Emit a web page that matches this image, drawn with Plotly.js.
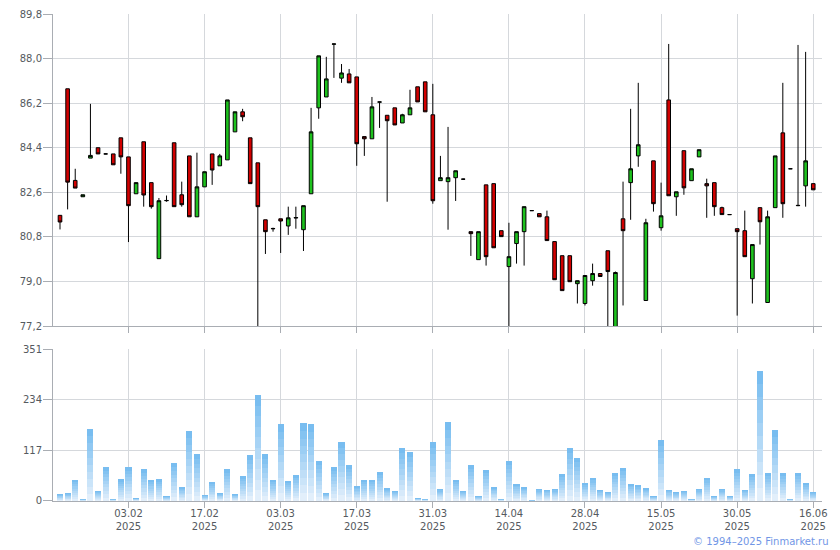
<!DOCTYPE html>
<html>
<head>
<meta charset="utf-8">
<script src="https://cdn.plot.ly/plotly-3.0.1.min.js"></script>
<style>html,body{margin:0;padding:0;background:#fff;}#chart{width:840px;height:550px;}</style>
</head>
<body>
<div id="chart"></div>
<script>
var dates = ["2025-01-21","2025-01-22","2025-01-23","2025-01-24","2025-01-27","2025-01-28","2025-01-29","2025-01-30","2025-01-31",
"2025-02-03","2025-02-04","2025-02-05","2025-02-06","2025-02-07","2025-02-10","2025-02-11","2025-02-12","2025-02-13","2025-02-14",
"2025-02-17","2025-02-18","2025-02-19","2025-02-20","2025-02-21","2025-02-24","2025-02-25","2025-02-26","2025-02-27","2025-02-28",
"2025-03-03","2025-03-04","2025-03-05","2025-03-06","2025-03-07","2025-03-10","2025-03-11","2025-03-12","2025-03-13","2025-03-14",
"2025-03-17","2025-03-18","2025-03-19","2025-03-20","2025-03-21","2025-03-24","2025-03-25","2025-03-26","2025-03-27","2025-03-28",
"2025-03-31","2025-04-01","2025-04-02","2025-04-03","2025-04-04","2025-04-07","2025-04-08","2025-04-09","2025-04-10","2025-04-11",
"2025-04-14","2025-04-15","2025-04-16","2025-04-17","2025-04-18","2025-04-21","2025-04-22","2025-04-23","2025-04-24","2025-04-25",
"2025-04-28","2025-04-29","2025-04-30","2025-05-05","2025-05-06","2025-05-07","2025-05-08","2025-05-12","2025-05-13","2025-05-14",
"2025-05-15","2025-05-16","2025-05-19","2025-05-20","2025-05-21","2025-05-22","2025-05-23","2025-05-26","2025-05-27","2025-05-28",
"2025-05-30","2025-06-02","2025-06-03","2025-06-04","2025-06-05","2025-06-06","2025-06-09","2025-06-10","2025-06-11","2025-06-13",
"2025-06-16"];

var openP = [81.67,86.78,83.08,82.42,83.98,84.40,84.15,84.15,84.80,84.03,
82.54,84.64,82.99,79.92,82.26,84.60,82.50,84.07,81.61,82.82,
84.15,83.67,83.91,85.04,85.85,84.80,83.79,81.49,81.14,81.53,
81.24,81.56,81.09,82.54,86.01,86.45,88.58,87.21,87.38,87.26,
84.85,84.76,86.24,85.71,86.01,85.40,85.73,86.86,87.06,85.73,
83.07,83.03,83.19,83.13,81.01,79.88,82.90,82.95,81.05,79.60,
80.53,81.01,81.86,81.74,81.61,80.61,80.04,80.04,78.91,78.11,
79.03,79.32,80.24,77.00,81.53,82.99,84.07,78.23,83.87,81.17,
86.33,82.42,84.28,83.07,84.03,82.95,82.99,81.98,81.70,81.13,
81.05,79.11,81.98,78.15,81.98,85.00,83.55,82.06,82.86,82.95];

var highP = [81.67,86.78,83.55,82.50,86.17,84.40,84.16,84.15,84.80,84.03,
82.99,84.64,82.99,82.37,82.47,84.60,83.03,84.07,84.20,83.43,
84.15,84.15,86.33,85.85,85.97,84.80,83.79,81.49,81.17,81.53,
82.02,82.02,82.06,86.01,88.11,88.07,88.60,87.78,87.58,87.26,
84.85,86.45,86.26,85.71,86.01,85.77,86.74,86.86,87.06,86.98,
84.07,85.24,83.47,83.15,81.01,81.01,82.90,82.95,81.05,81.37,
81.01,82.02,81.86,81.74,81.86,80.61,80.04,80.04,79.03,79.24,
79.72,79.32,80.24,79.40,83.03,85.97,87.02,81.53,83.87,82.99,
88.59,82.62,84.28,83.55,84.32,83.15,82.99,82.02,81.70,81.13,
81.86,80.49,81.98,81.86,84.07,87.02,83.55,88.55,88.27,82.95];

var lowP = [81.10,81.91,82.77,82.42,83.98,84.15,84.14,83.71,83.35,80.59,
82.54,82.02,81.94,79.92,82.22,82.02,82.02,81.61,81.61,82.82,
82.90,83.67,83.91,85.04,85.47,82.95,76.90,80.11,81.01,80.15,
80.88,81.13,80.23,82.54,85.57,86.45,87.22,87.02,87.02,83.67,
84.07,84.76,85.20,82.22,85.32,85.40,85.73,86.25,85.85,82.14,
83.07,81.09,82.25,83.10,80.03,79.88,79.64,80.36,80.81,76.90,
79.72,79.64,81.86,81.61,80.65,79.07,78.63,78.99,78.11,78.03,
78.83,79.20,76.90,76.90,78.03,81.49,83.63,78.23,81.82,81.05,
82.46,81.65,82.50,83.07,84.03,81.57,81.65,81.70,81.70,77.62,
80.00,78.11,80.49,78.15,81.98,81.57,83.55,82.04,82.02,82.70];

var closeP = [81.40,83.01,82.77,82.50,84.09,84.15,84.15,83.71,84.03,82.06,
82.99,82.49,82.02,82.26,82.27,82.02,82.10,81.61,82.82,83.43,
83.50,84.07,86.33,85.85,85.65,82.95,82.02,81.01,81.13,81.44,
81.57,81.58,82.06,85.04,88.11,87.18,88.59,87.42,87.02,84.56,
84.76,86.05,86.25,85.49,85.32,85.73,86.01,86.25,85.85,82.26,
83.19,83.19,83.47,83.13,80.93,81.01,80.00,80.36,80.81,80.00,
81.01,82.02,81.86,81.61,80.65,79.07,78.63,78.99,79.03,79.24,
79.32,79.20,79.40,79.36,81.05,83.55,84.52,81.37,82.14,81.65,
82.46,82.62,82.78,83.55,84.32,82.86,82.02,81.70,81.70,81.01,
80.00,80.49,81.41,81.61,84.07,82.14,83.55,82.07,83.87,82.70];

var volume = [15.5,17.8,48,4,166,22,78,4,50,78,
6,73,48,50,11,87,32,162,108,13,
43,18,73,15.5,57,106,245,108,48,178,
46,60,180,178,92,18,78,136,83,34,
48,48,66,29,22,122,113,6,4,136,
27,182,48,22,83,11,71,32,4,92,
39,32,1.5,27,25,27,62,122,99,41,
53,25,20,64,76,39,36,29,11,141,
25,20,22,4,27,53,11,27,11,73,
25,62,301,64,164,64,4,64,41,20];

var tickDates = ["2025-02-03","2025-02-17","2025-03-03","2025-03-17","2025-03-31","2025-04-14","2025-04-28","2025-05-15","2025-05-30","2025-06-16"];
var tickLabels = ["03.02<br>2025","17.02<br>2025","03.03<br>2025","17.03<br>2025","31.03<br>2025","14.04<br>2025","28.04<br>2025","15.05<br>2025","30.05<br>2025","16.06<br>2025"];
var priceTicks = [77.2,79.0,80.8,82.6,84.4,86.2,88.0,89.8];
var volumeTicks = [0,117,234,351];

var traces = [];
traces.push({
  type: 'candlestick', x: dates, open: openP, high: highP, low: lowP, close: closeP,
  xaxis: 'x2', yaxis: 'y', whiskerwidth: 0, hoverinfo: 'none',
  increasing: {line: {color: '#000000', width: 1}, fillcolor: '#1ec21e'},
  decreasing: {line: {color: '#000000', width: 1}, fillcolor: '#d10000'},
  showlegend: false
});

// vertical gradient on volume bars: stacked equal slices of each bar
var nSeg = 10;
var cBot = [226, 239, 251], cTop = [120, 189, 240];
for (var s = 0; s < nSeg; s++) {
  var t = s / (nSeg - 1);
  var col = 'rgb(' + Math.round(cBot[0] + (cTop[0] - cBot[0]) * t) + ',' +
    Math.round(cBot[1] + (cTop[1] - cBot[1]) * t) + ',' +
    Math.round(cBot[2] + (cTop[2] - cBot[2]) * t) + ')';
  traces.push({
    type: 'bar', x: dates, y: volume.map(function (v) { return v / nSeg; }),
    xaxis: 'x', yaxis: 'y2', marker: {color: col, line: {width: 0}},
    hoverinfo: 'none', showlegend: false
  });
}

var gridC = '#d5d8dc', axC = '#a9adb3';
var xCommon = {
  type: 'category', range: [-0.92, 100.15], tickmode: 'array', tickvals: tickDates,
  showgrid: true, gridcolor: gridC, gridwidth: 1, zeroline: false,
  showline: true, linecolor: axC, linewidth: 1,
  ticks: 'outside', ticklen: 6, tickcolor: axC, tickwidth: 1,
  rangeslider: {visible: false}, fixedrange: true
};
var xaxis = Object.assign({}, xCommon, {anchor: 'y2', domain: [0, 1], ticktext: tickLabels, showticklabels: true, ticklabelstandoff: -3});
var xaxis2 = Object.assign({}, xCommon, {anchor: 'y', domain: [0, 1], matches: 'x', ticktext: tickLabels, showticklabels: false});

var layout = {
  width: 840, height: 550,
  margin: {l: 53, r: 18, t: 14, b: 49},
  paper_bgcolor: '#ffffff', plot_bgcolor: '#ffffff',
  font: {family: 'DejaVu Sans, Verdana, sans-serif', size: 10, color: '#555a60'},
  separators: ', ',
  showlegend: false, barmode: 'stack', bargap: 0.2, boxgap: 0.32,
  xaxis: xaxis, xaxis2: xaxis2,
  yaxis: {
    domain: [0.3593, 1], anchor: 'x2', range: [77.2, 89.8], tickmode: 'array', tickvals: priceTicks,
    tickformat: '.1f', showgrid: true, gridcolor: gridC, zeroline: false,
    showline: true, linecolor: axC, ticks: 'outside', ticklen: 9, tickcolor: axC, fixedrange: true,
    ticklabelstandoff: -1
  },
  yaxis2: {
    domain: [0, 0.3121], anchor: 'x', range: [0, 351], tickmode: 'array', tickvals: volumeTicks,
    showgrid: true, gridcolor: gridC, zeroline: false,
    showline: true, linecolor: axC, ticks: 'outside', ticklen: 9, tickcolor: axC, fixedrange: true,
    ticklabelstandoff: -1
  },
  annotations: [{
    xref: 'paper', yref: 'paper', x: 1.0117, y: -0.084, xanchor: 'right', yanchor: 'middle',
    text: '© 1994–2025 Finmarket.ru', showarrow: false,
    font: {family: 'DejaVu Sans, Verdana, sans-serif', size: 10, color: '#7196e6'}
  }]
};

Plotly.newPlot('chart', traces, layout, {staticPlot: true, displayModeBar: false});
</script>
</body>
</html>
